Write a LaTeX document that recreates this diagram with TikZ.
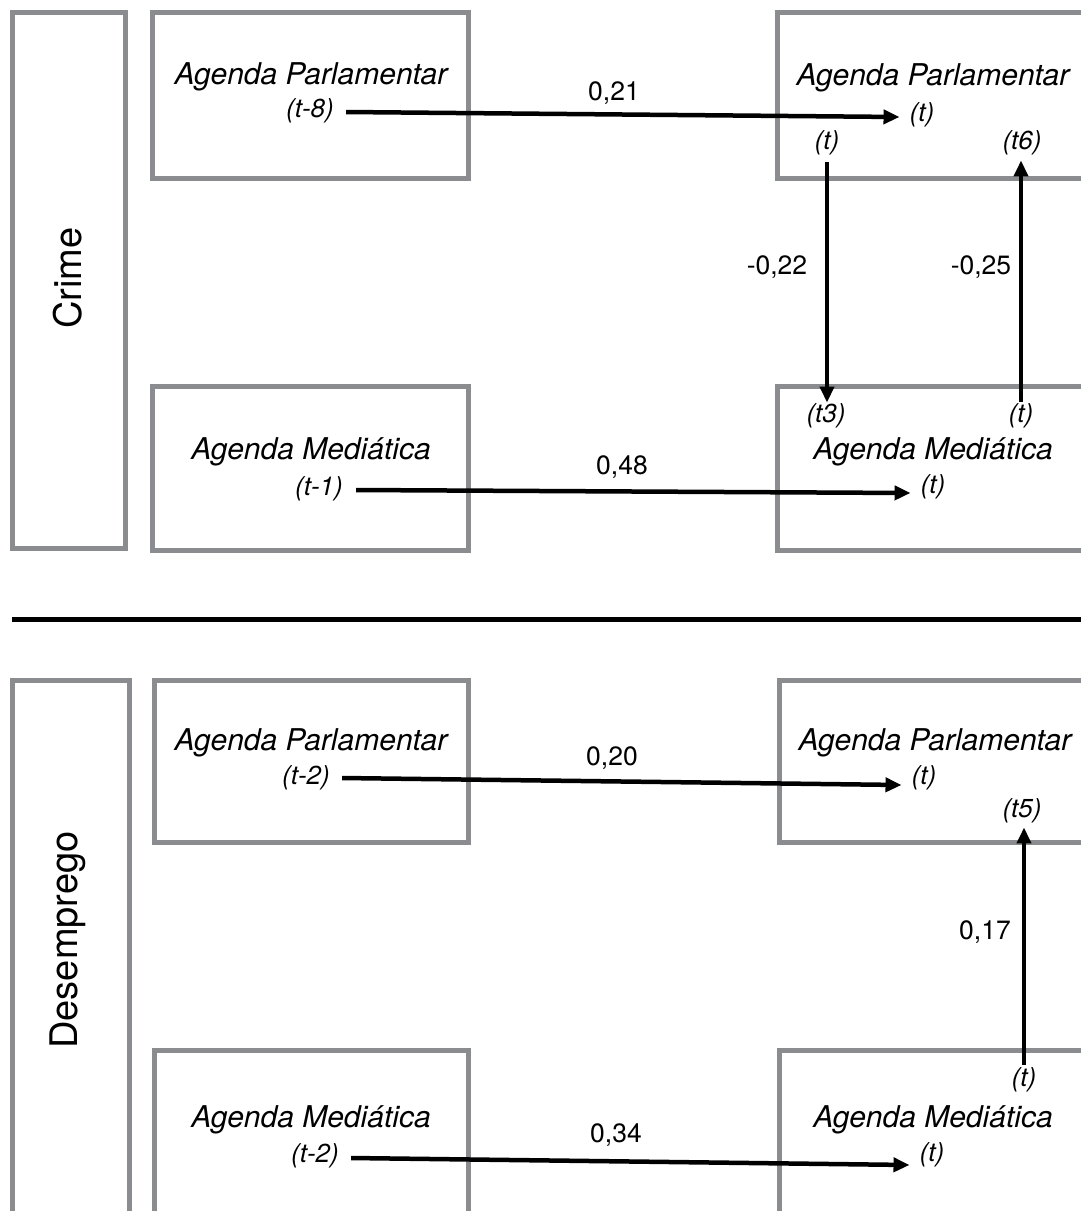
\documentclass[tikz,border=0pt]{standalone}
\usepackage{fontspec}
\setmainfont{TeX Gyre Heros}
\usetikzlibrary{arrows.meta}
\definecolor{boxgray}{HTML}{8A8C8F}
\begin{document}
\begin{tikzpicture}[x=1pt,y=-1pt,
  panel/.style={draw=boxgray,line width=5pt,outer sep=0pt,inner sep=0pt,anchor=north west},
  lab/.style={font=\fontsize{30}{36}\selectfont\itshape,inner sep=0pt},
  tlab/.style={font=\fontsize{26}{31}\selectfont\itshape,inner sep=0pt},
  coef/.style={font=\fontsize{26.5}{32}\selectfont,inner sep=0pt},
  topic/.style={font=\fontsize{38}{46}\selectfont,rotate=90,inner sep=0pt},
  arr/.style={line width=4.5pt,-{Triangle[length=16pt,width=14pt]}}]
\useasboundingbox (0,0) rectangle (1081,1211);
\clip (0,0) rectangle (1081,1211);

% ---------- Crime ----------
\node[panel,minimum width=113pt,minimum height=536pt] (crimeP) at (12,12) {};
\node[topic] (crime) at (68,278) {Crime};

\node[panel,minimum width=316pt,minimum height=166pt] (apTL) at (152,12) {};
\node[panel,minimum width=330pt,minimum height=166pt] (apTR) at (777,12) {};
\node[panel,minimum width=316pt,minimum height=164pt] (amTL) at (152,386) {};
\node[panel,minimum width=330pt,minimum height=164pt] (amTR) at (777,386) {};

\node[lab]  (t1) at (311,77)  {Agenda Parlamentar};
\node[tlab] (p1) at (310,111) {(t-8)};
\node[lab]  (t2) at (933,78)  {Agenda Parlamentar};
\node[tlab] (p2) at (922,115) {(t)};
\node[tlab] (q1) at (827,143) {(t)};
\node[tlab] (q2) at (1022,143) {(t6)};

\node[tlab] (q3) at (826,416) {(t3)};
\node[tlab] (q4) at (1021,416) {(t)};
\node[lab]  (t3) at (311,452) {Agenda Mediática};
\node[tlab] (p3) at (319,489) {(t-1)};
\node[lab]  (t4) at (933,452) {Agenda Mediática};
\node[tlab] (p4) at (933,487) {(t)};

\node[coef] (c1) at (614,93)  {0,21};
\node[coef] (c2) at (777,267) {-0,22};
\node[coef] (c3) at (981,267) {-0,25};
\node[coef] (c4) at (622,467) {0,48};

\draw[arr] ([xshift=12pt,yshift=-1pt]p1.east) -- ([xshift=-10pt,yshift=-2pt]p2.west);
\draw[arr] ([xshift=13pt,yshift=-1pt]p3.east) -- ([xshift=-10pt,yshift=-6pt]p4.west);
\draw[arr] ([yshift=-7pt]q1.south) -- ([yshift=1pt]q1.south |- q3.north);
\draw[arr] ([yshift=2pt]q4.north) -- ([yshift=-5pt]q4.north |- q2.south);

% ---------- divider ----------
\draw[line width=5pt] (12,619) -- (1090,619);

% ---------- Desemprego ----------
\node[panel,minimum width=117pt,minimum height=560pt] (desP) at (12,680) {};
\node[topic] (desemp) at (68,940) {Desemprego};

\node[panel,minimum width=314pt,minimum height=162pt] (apBL) at (154,680) {};
\node[panel,minimum width=330pt,minimum height=162pt] (apBR) at (779,680) {};
\node[panel,minimum width=314pt,minimum height=200pt] (amBL) at (154,1050) {};
\node[panel,minimum width=330pt,minimum height=200pt] (amBR) at (779,1050) {};

\node[lab]  (t5) at (311,743)  {Agenda Parlamentar};
\node[tlab] (p5) at (306,778)  {(t-2)};
\node[lab]  (t6) at (935,743)  {Agenda Parlamentar};
\node[tlab] (p6) at (924,778)  {(t)};
\node[tlab] (q5) at (1022,811) {(t5)};

\node[tlab] (q6) at (1024,1080) {(t)};
\node[lab]  (t7) at (311,1120) {Agenda Mediática};
\node[tlab] (p7) at (315,1156) {(t-2)};
\node[lab]  (t8) at (933,1120) {Agenda Mediática};
\node[tlab] (p8) at (932,1155) {(t)};

\node[coef] (c5) at (612,758)  {0,20};
\node[coef] (c6) at (985,932)  {0,17};
\node[coef] (c7) at (616,1135) {0,34};

\draw[arr] ([xshift=12pt]p5.east) -- ([xshift=-10pt,yshift=-7pt]p6.west);
\draw[arr] ([xshift=12pt,yshift=-2pt]p7.east) -- ([xshift=-10pt,yshift=-10pt]p8.west);
\draw[arr] ([yshift=3pt]q6.north) -- ([yshift=-4pt]q6.north |- q5.south);
\end{tikzpicture}
\end{document}
